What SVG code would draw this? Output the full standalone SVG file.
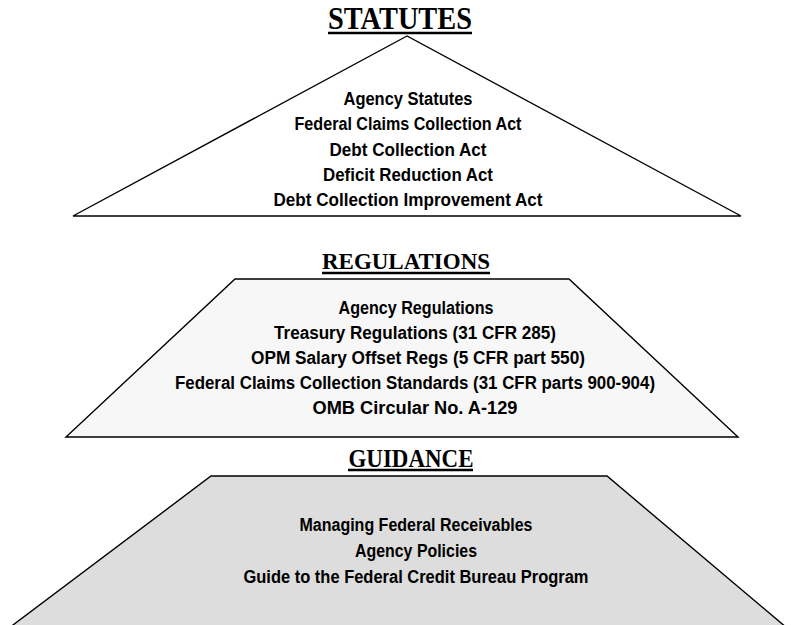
<svg xmlns="http://www.w3.org/2000/svg" width="796" height="625" viewBox="0 0 796 625">
<style>
.title{font-family:"Liberation Serif","Times New Roman",serif;font-weight:bold;fill:#000;text-anchor:middle}
.item{font-family:"Liberation Sans",Arial,sans-serif;font-weight:bold;font-size:18px;fill:#000;text-anchor:middle}
.shape{stroke:#000;stroke-width:1.4;stroke-linejoin:miter}
.ul{stroke:#000;stroke-width:2.5}
</style>
<rect width="796" height="625" fill="#fff"/>
<g id="statutes">
  <polygon class="shape" points="407,36 73,216 741,216" fill="#fff"/>
  <text class="title" x="400" y="29" font-size="31" textLength="144" lengthAdjust="spacingAndGlyphs">STATUTES</text>
  <line class="ul" x1="328" y1="33" x2="472" y2="33"/>
  <text class="item" x="408" y="105" textLength="129" lengthAdjust="spacingAndGlyphs">Agency Statutes</text>
  <text class="item" x="408" y="130" textLength="227" lengthAdjust="spacingAndGlyphs">Federal Claims Collection Act</text>
  <text class="item" x="408" y="156" textLength="157" lengthAdjust="spacingAndGlyphs">Debt Collection Act</text>
  <text class="item" x="408" y="181" textLength="170" lengthAdjust="spacingAndGlyphs">Deficit Reduction Act</text>
  <text class="item" x="408" y="206" textLength="269" lengthAdjust="spacingAndGlyphs">Debt Collection Improvement Act</text>
</g>
<g id="regulations">
  <polygon class="shape" points="235,279 569,279 738,437 66,437" fill="#f7f7f7"/>
  <text class="title" x="406" y="269" font-size="23" textLength="168" lengthAdjust="spacingAndGlyphs">REGULATIONS</text>
  <line class="ul" x1="322" y1="273" x2="490" y2="273"/>
  <text class="item" x="416" y="314" textLength="155" lengthAdjust="spacingAndGlyphs">Agency Regulations</text>
  <text class="item" x="415" y="339" textLength="282" lengthAdjust="spacingAndGlyphs">Treasury Regulations (31 CFR 285)</text>
  <text class="item" x="418" y="364" textLength="334" lengthAdjust="spacingAndGlyphs">OPM Salary Offset Regs (5 CFR part 550)</text>
  <text class="item" x="415" y="389" textLength="480" lengthAdjust="spacingAndGlyphs">Federal Claims Collection Standards (31 CFR parts 900-904)</text>
  <text class="item" x="415" y="414" textLength="205" lengthAdjust="spacingAndGlyphs">OMB Circular No. A-129</text>
</g>
<g id="guidance">
  <polygon class="shape" points="211,476 607,476 787,628 9,628" fill="#dddddd"/>
  <text class="title" x="411" y="467" font-size="26" textLength="125" lengthAdjust="spacingAndGlyphs">GUIDANCE</text>
  <line class="ul" x1="348" y1="470" x2="473" y2="470"/>
  <text class="item" x="416" y="531" textLength="233" lengthAdjust="spacingAndGlyphs">Managing Federal Receivables</text>
  <text class="item" x="416" y="557" textLength="122" lengthAdjust="spacingAndGlyphs">Agency Policies</text>
  <text class="item" x="416" y="583" textLength="345" lengthAdjust="spacingAndGlyphs">Guide to the Federal Credit Bureau Program</text>
</g>
<g id="connectors"></g>
</svg>
